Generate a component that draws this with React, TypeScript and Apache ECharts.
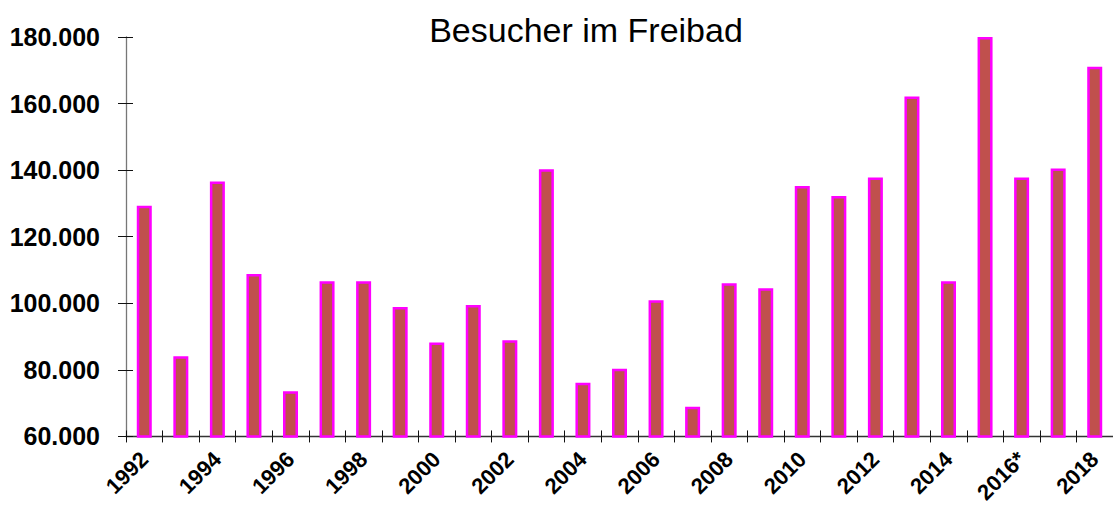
import React, { useEffect, useRef } from "react";
import * as echarts from "echarts";

const years = [
  "1992", "1993", "1994", "1995", "1996", "1997", "1998", "1999", "2000",
  "2001", "2002", "2003", "2004", "2005", "2006", "2007", "2008", "2009",
  "2010", "2011", "2012", "2013", "2014", "2015", "2016*", "2017", "2018",
];

const visitors = [
  129300, 84100, 136600, 108800, 73600, 106600, 106600, 98900, 88200,
  99500, 88900, 140300, 76100, 80300, 100900, 68900, 106000, 104500,
  135200, 132200, 137800, 162100, 106600, 180000, 137800, 140500, 171100,
];

const titleText = "Besucher im Freibad";
const yMin = 60000;
const yMax = 180000;
const yStep = 20000;

const fmt = (v: number) => String(v).replace(/\B(?=(\d{3})+(?!\d))/g, ".");

export default function App() {
  const ref = useRef<HTMLDivElement>(null);
  useEffect(() => {
    if (!ref.current) return;
    const chart = echarts.init(ref.current, undefined, { renderer: "svg" });
    const font = "'Liberation Sans', Arial, sans-serif";
    chart.setOption({
      animation: false,
      backgroundColor: "#ffffff",
      textStyle: { fontFamily: font },
      title: {
        text: titleText,
        left: 581,
        top: 8,
        textAlign: "center",
        textStyle: { fontFamily: font, fontSize: 34, fontWeight: "normal", color: "#000" },
      },
      grid: { left: 126, right: -2, top: 37, bottom: 69, containLabel: false },
      xAxis: [
        {
          type: "category",
          data: years,
          position: "bottom",
          axisLine: { show: true, lineStyle: { color: "#333", width: 1.3 } },
          axisTick: { show: true, interval: 0, inside: false, length: 6, lineStyle: { color: "#111" } },
          axisLabel: {
            interval: 1,
            rotate: 45,
            margin: 19,
            fontFamily: font,
            fontSize: 22,
            fontWeight: "bold",
            color: "#000",
          },
          splitLine: { show: false },
        },
        {
          type: "category",
          data: years,
          position: "bottom",
          axisLine: { show: false },
          axisTick: { show: true, interval: 0, inside: true, length: 6, lineStyle: { color: "#111" } },
          axisLabel: { show: false },
          splitLine: { show: false },
        },
      ],
      yAxis: [
        {
          type: "value",
          min: yMin,
          max: yMax,
          interval: yStep,
          axisLine: { show: true, lineStyle: { color: "#777", width: 1.3 } },
          axisTick: { show: true, inside: false, length: 8, lineStyle: { color: "#111" } },
          axisLabel: {
            margin: 26,
            formatter: (v: number) => fmt(v),
            fontFamily: font,
            fontSize: 25,
            fontWeight: "bold",
            color: "#000",
          },
          splitLine: { show: false },
        },
        {
          type: "value",
          min: yMin,
          max: yMax,
          interval: yStep,
          position: "left",
          axisLine: { show: false },
          axisTick: { show: true, inside: true, length: 7, lineStyle: { color: "#111" } },
          axisLabel: { show: false },
          splitLine: { show: false },
        },
      ],
      series: [
        {
          type: "bar",
          data: visitors,
          xAxisIndex: 0,
          yAxisIndex: 0,
          barWidth: 15,
          itemStyle: { color: "#C0504D", borderColor: "#FF00FF", borderWidth: 2.5 },
        },
      ],
    });
    return () => chart.dispose();
  }, []);
  return (
    <div
      ref={ref}
      style={{ position: "absolute", left: 0, top: 0, width: 1113, height: 506 }}
    />
  );
}
